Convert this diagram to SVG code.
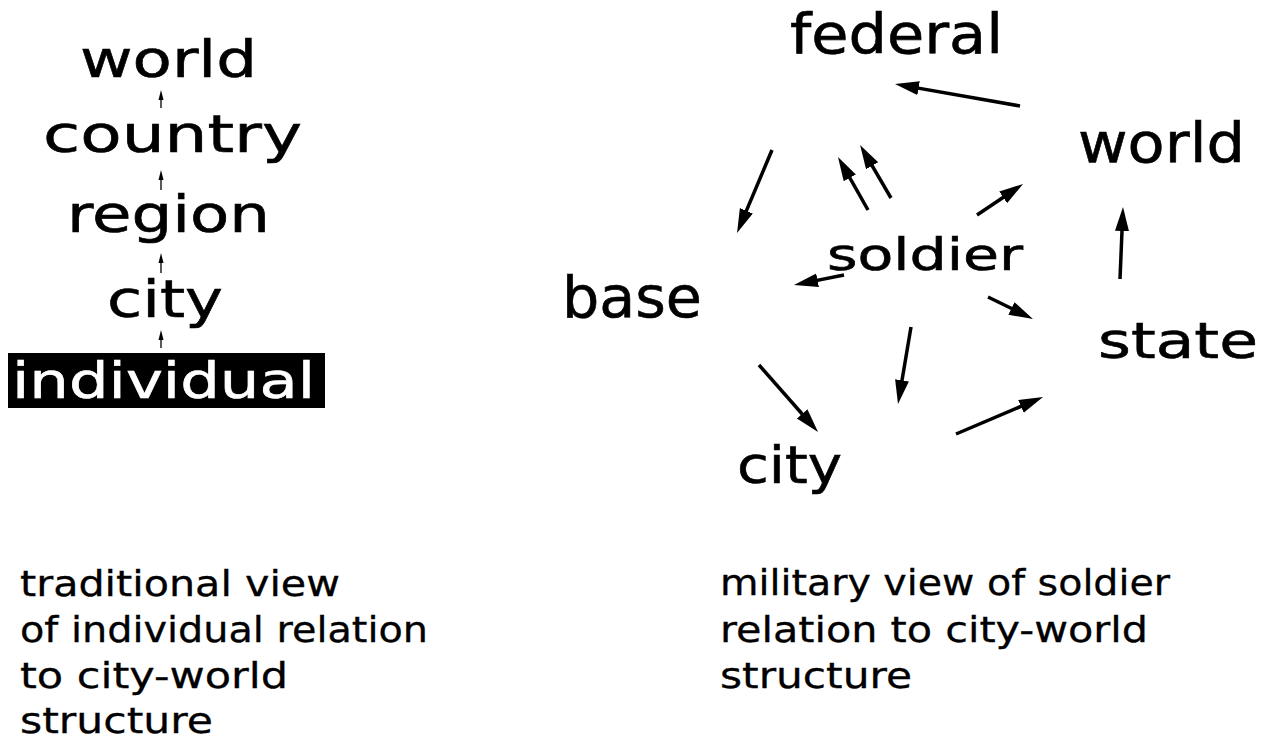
<svg xmlns="http://www.w3.org/2000/svg" width="1263" height="754" viewBox="0 0 1263 754">
  <style>
    .lbl { font-family: "DejaVu Sans", "Liberation Sans", sans-serif; fill: #000; stroke: #000; stroke-width: 0.6; }
    .inv { fill: #fff; stroke: #fff; }
    .cap { font-family: "DejaVu Sans", "Liberation Sans", sans-serif; font-size: 35px; fill: #000; stroke: #000; stroke-width: 0.3; }
    .big { stroke: #000; stroke-width: 3.5; fill: none; marker-end: url(#head); }
    .tiny { stroke: #000; stroke-width: 1.3; fill: none; marker-end: url(#headSmall); }
  </style>
  <defs>
    <marker id="head" markerUnits="userSpaceOnUse" markerWidth="25" markerHeight="15" refX="12" refY="7" orient="auto">
      <path d="M0,0 L24,7 L0,14 z" fill="#000"/>
    </marker>
    <marker id="headSmall" markerUnits="userSpaceOnUse" markerWidth="11" markerHeight="6" refX="4" refY="3" orient="auto">
      <path d="M0,0.5 L10,3 L0,5.5 z" fill="#000"/>
    </marker>
  </defs>
  <rect width="1263" height="754" fill="#fff"/>

  <!-- left column: nested hierarchy -->
  <g id="l-world"><text class="lbl" x="80" y="77" font-size="52" textLength="177" lengthAdjust="spacingAndGlyphs">world</text></g>
  <g id="l-country"><text class="lbl" x="43" y="152" font-size="52" textLength="259" lengthAdjust="spacingAndGlyphs">country</text></g>
  <g id="l-region"><text class="lbl" x="67" y="232" font-size="52" textLength="203" lengthAdjust="spacingAndGlyphs">region</text></g>
  <g id="l-city"><text class="lbl" x="107" y="317" font-size="52" textLength="116" lengthAdjust="spacingAndGlyphs">city</text></g>
  <g id="l-individual">
    <rect x="8" y="353" width="317" height="55" fill="#000"/>
    <text class="lbl inv" x="12" y="398" font-size="50" textLength="303" lengthAdjust="spacingAndGlyphs">individual</text>
  </g>

  <!-- right side: soldier network -->
  <g id="r-federal"><text class="lbl" x="790" y="53" font-size="56" textLength="213" lengthAdjust="spacingAndGlyphs">federal</text></g>
  <g id="r-world"><text class="lbl" x="1078" y="162" font-size="55" textLength="167" lengthAdjust="spacingAndGlyphs">world</text></g>
  <g id="r-soldier"><text class="lbl" x="827" y="270" font-size="45" textLength="196" lengthAdjust="spacingAndGlyphs">soldier</text></g>
  <g id="r-base"><text class="lbl" x="562" y="317" font-size="57" textLength="140" lengthAdjust="spacingAndGlyphs">base</text></g>
  <g id="r-state"><text class="lbl" x="1098" y="358" font-size="50" textLength="160" lengthAdjust="spacingAndGlyphs">state</text></g>
  <g id="r-city"><text class="lbl" x="737" y="483" font-size="52" textLength="105" lengthAdjust="spacingAndGlyphs">city</text></g>

  <g id="connectors">
    <!-- hierarchy links -->
    <line class="tiny" x1="161" y1="108" x2="161" y2="96"/>
    <line class="tiny" x1="161" y1="190" x2="161" y2="176"/>
    <line class="tiny" x1="161" y1="273" x2="161" y2="259"/>
    <line class="tiny" x1="161" y1="348" x2="161" y2="336"/>
    <!-- network links -->
    <line class="big" x1="1020" y1="106" x2="906.8" y2="86.1"/>
    <line class="big" x1="772" y1="150" x2="741.7" y2="221.9"/>
    <line class="big" x1="868" y1="210" x2="843.9" y2="167.4"/>
    <line class="big" x1="891" y1="198" x2="866.1" y2="155.4"/>
    <line class="big" x1="977" y1="215" x2="1013.1" y2="190.7"/>
    <line class="big" x1="844" y1="275" x2="805.8" y2="282.6"/>
    <line class="big" x1="988" y1="297" x2="1022.2" y2="313.7"/>
    <line class="big" x1="911" y1="327" x2="900.0" y2="392.2"/>
    <line class="big" x1="759" y1="365" x2="810.1" y2="423.0"/>
    <line class="big" x1="956" y1="434" x2="1032.0" y2="401.7"/>
    <line class="big" x1="1120" y1="279" x2="1122.5" y2="219"/>
  </g>

  <!-- captions -->
  <g id="caption-left">
    <text class="cap" x="20" y="596" textLength="320" lengthAdjust="spacingAndGlyphs">traditional view</text>
    <text class="cap" x="20" y="642" textLength="408" lengthAdjust="spacingAndGlyphs">of individual relation</text>
    <text class="cap" x="20" y="688" textLength="268" lengthAdjust="spacingAndGlyphs">to city-world</text>
    <text class="cap" x="20" y="733" textLength="193" lengthAdjust="spacingAndGlyphs">structure</text>
  </g>
  <g id="caption-right">
    <text class="cap" x="720" y="595" textLength="450" lengthAdjust="spacingAndGlyphs">military view of soldier</text>
    <text class="cap" x="720" y="642" textLength="428" lengthAdjust="spacingAndGlyphs">relation to city-world</text>
    <text class="cap" x="720" y="688" textLength="192" lengthAdjust="spacingAndGlyphs">structure</text>
  </g>
</svg>
